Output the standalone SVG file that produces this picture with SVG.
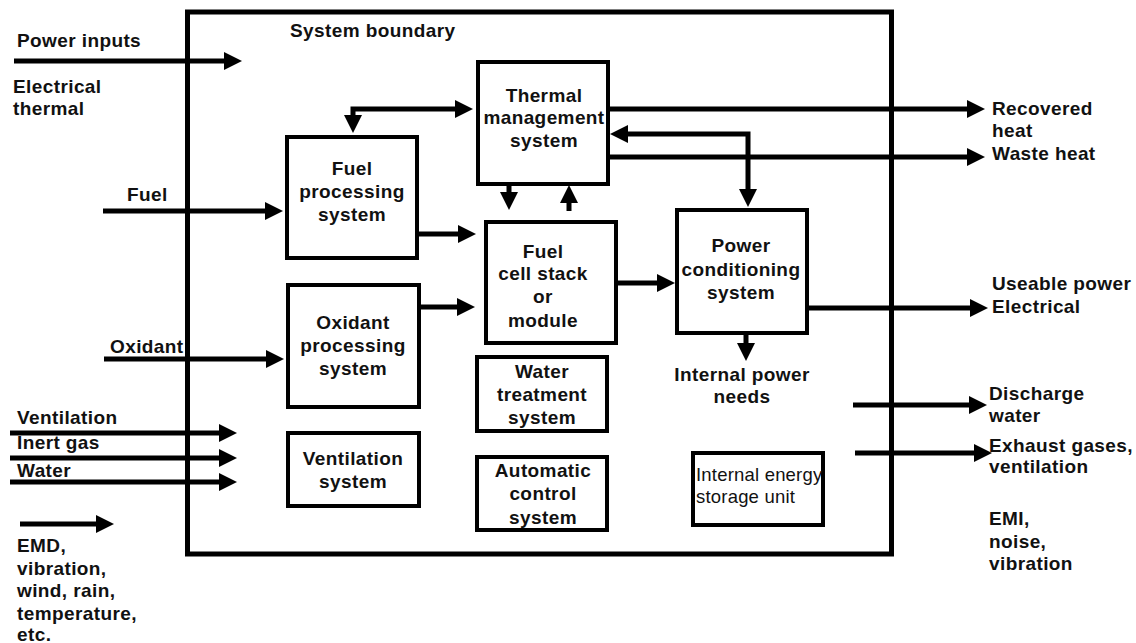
<svg xmlns="http://www.w3.org/2000/svg" width="1136" height="643" viewBox="0 0 1136 643">
<style>
text{font-family:"Liberation Sans",Arial,sans-serif;font-size:19px;font-weight:bold;fill:#111;letter-spacing:0.4px}
.c{text-anchor:middle}
.r{font-weight:normal;font-size:18.5px;letter-spacing:0.2px}
.box{fill:#fff;stroke:#000;stroke-width:4}
.ln{fill:none;stroke:#000;stroke-width:5}
</style>
<defs>
<marker id="ah" viewBox="0 0 18 18" refX="3" refY="9" markerWidth="18" markerHeight="18" markerUnits="userSpaceOnUse" orient="auto-start-reverse">
<path d="M0,0 L18,9 L0,18 z" fill="#000"/>
</marker>
</defs>
<rect fill="#fff" x="0" y="0" width="1136" height="643"/>
<g id="boundary">
<rect x="187.5" y="12" width="704" height="542" fill="none" stroke="#000" stroke-width="5"/>
<text x="290" y="37">System boundary</text>
</g>
<g id="connectors">
<path class="ln" d="M14,61 H227" marker-end="url(#ah)"/>
<path class="ln" d="M103,211 H268" marker-end="url(#ah)"/>
<path class="ln" d="M104,359 H269" marker-end="url(#ah)"/>
<path class="ln" d="M10,433 H222" marker-end="url(#ah)"/>
<path class="ln" d="M10,458 H222" marker-end="url(#ah)"/>
<path class="ln" d="M10,482 H222" marker-end="url(#ah)"/>
<path class="ln" d="M20,524 H99" marker-end="url(#ah)"/>
<path class="ln" d="M458,109 H353 V118" marker-start="url(#ah)" marker-end="url(#ah)"/>
<path class="ln" d="M419,234 H461" marker-end="url(#ah)"/>
<path class="ln" d="M421,307 H460" marker-end="url(#ah)"/>
<path class="ln" d="M509,184 V195" marker-end="url(#ah)"/>
<path class="ln" d="M569,211 V200" marker-end="url(#ah)"/>
<path class="ln" d="M618,283 H660" marker-end="url(#ah)"/>
<path class="ln" d="M625,134 H748 V192" marker-start="url(#ah)" marker-end="url(#ah)"/>
<path class="ln" d="M610,109 H970" marker-end="url(#ah)"/>
<path class="ln" d="M610,157 H970" marker-end="url(#ah)"/>
<path class="ln" d="M809,308 H973" marker-end="url(#ah)"/>
<path class="ln" d="M746,335 V346" marker-end="url(#ah)"/>
<path class="ln" d="M853,405 H972" marker-end="url(#ah)"/>
<path class="ln" d="M855,453 H977" marker-end="url(#ah)"/>
</g>
<g id="thermal">
<rect class="box" x="478" y="62" width="130" height="122"/>
<text class="c" x="544" y="102">Thermal</text>
<text class="c" x="544" y="124">management</text>
<text class="c" x="544" y="147">system</text>
</g>
<g id="fuel-processing">
<rect class="box" x="287" y="137" width="130" height="121"/>
<text class="c" x="352" y="175">Fuel</text>
<text class="c" x="352" y="198">processing</text>
<text class="c" x="352" y="221">system</text>
</g>
<g id="fuel-cell">
<rect class="box" x="486" y="222" width="130" height="121"/>
<text class="c" x="543" y="258">Fuel</text>
<text class="c" x="543" y="280">cell stack</text>
<text class="c" x="543" y="303">or</text>
<text class="c" x="543" y="327">module</text>
</g>
<g id="power-conditioning">
<rect class="box" x="677" y="210" width="130" height="123"/>
<text class="c" x="741" y="252">Power</text>
<text class="c" x="741" y="276">conditioning</text>
<text class="c" x="741" y="299">system</text>
</g>
<g id="oxidant-processing">
<rect class="box" x="288" y="285" width="131" height="122"/>
<text class="c" x="353" y="329">Oxidant</text>
<text class="c" x="353" y="352">processing</text>
<text class="c" x="353" y="375">system</text>
</g>
<g id="water-treatment">
<rect class="box" x="477" y="357" width="130" height="74"/>
<text class="c" x="542" y="378">Water</text>
<text class="c" x="542" y="401">treatment</text>
<text class="c" x="542" y="424">system</text>
</g>
<g id="automatic-control">
<rect class="box" x="477" y="457" width="130" height="73"/>
<text class="c" x="543" y="477">Automatic</text>
<text class="c" x="543" y="500">control</text>
<text class="c" x="543" y="524">system</text>
</g>
<g id="ventilation-system">
<rect class="box" x="288" y="433" width="131" height="73"/>
<text class="c" x="353" y="465">Ventilation</text>
<text class="c" x="353" y="488">system</text>
</g>
<g id="storage">
<rect class="box" x="693" y="453" width="130" height="72"/>
<text class="r" x="696" y="481">Internal energy</text>
<text class="r" x="696" y="503">storage unit</text>
</g>
<g id="internal-power">
<text class="c" x="742" y="381">Internal power</text>
<text class="c" x="742" y="403">needs</text>
</g>
<g id="inputs">
<text x="17" y="47">Power inputs</text>
<text x="13" y="93">Electrical</text>
<text x="13" y="115">thermal</text>
<text x="127" y="201">Fuel</text>
<text x="110" y="353">Oxidant</text>
<text x="17" y="424">Ventilation</text>
<text x="17" y="449">Inert gas</text>
<text x="17" y="477">Water</text>
<text x="17" y="552">EMD,</text>
<text x="17" y="575">vibration,</text>
<text x="17" y="597">wind, rain,</text>
<text x="17" y="620">temperature,</text>
<text x="17" y="641">etc.</text>
</g>
<g id="outputs">
<text x="992" y="115">Recovered</text>
<text x="992" y="137">heat</text>
<text x="992" y="160">Waste heat</text>
<text x="992" y="290">Useable power</text>
<text x="992" y="313">Electrical</text>
<text x="989" y="400">Discharge</text>
<text x="989" y="422">water</text>
<text x="989" y="452">Exhaust gases,</text>
<text x="989" y="473">ventilation</text>
<text x="989" y="525">EMI,</text>
<text x="989" y="548">noise,</text>
<text x="989" y="570">vibration</text>
</g>
</svg>
